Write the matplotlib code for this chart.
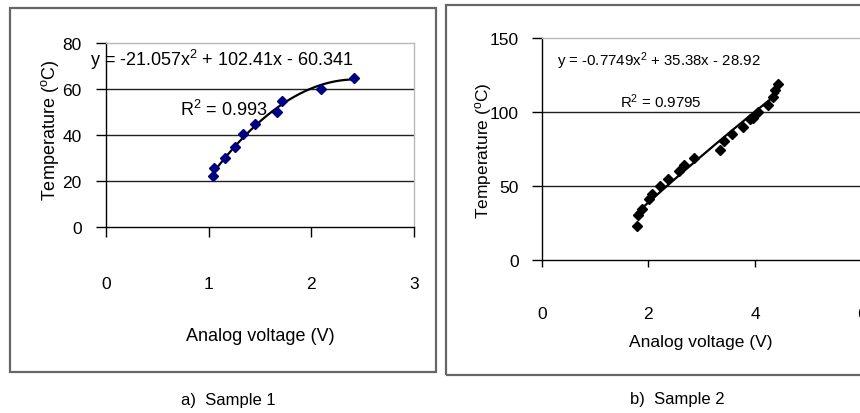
import numpy as np
import matplotlib
matplotlib.use("Agg")
import matplotlib.pyplot as plt
from matplotlib.patches import Rectangle

plt.rcParams['font.family'] = ['Liberation Sans', 'DejaVu Sans']
plt.rcParams['mathtext.fontset'] = 'custom'
plt.rcParams['mathtext.rm'] = 'Liberation Sans'
plt.rcParams['mathtext.it'] = 'Liberation Sans'
plt.rcParams['mathtext.default'] = 'regular'

# ---- data: sample 1 ----
s1_voltage = [1.04, 1.05, 1.155, 1.255, 1.33, 1.45, 1.67, 1.71, 2.09, 2.42]
s1_temp = [22, 25.5, 30, 35, 40.5, 45, 50, 55, 60, 65]
s1_coef = [-21.057, 102.41, -60.341]
s1_r2 = "0.993"
s1_xticks = [0, 1, 2, 3]
s1_yticks = [0, 20, 40, 60, 80]

# ---- data: sample 2 ----
s2_voltage = [1.78, 1.80, 1.88, 2.02, 2.07, 2.22, 2.37, 2.58, 2.66, 2.85,
              3.34, 3.42, 3.57, 3.78, 3.91, 3.97, 4.06, 4.25, 4.33, 4.38, 4.43]
s2_temp = [23, 30, 34, 41, 44.5, 50, 54.5, 60, 64, 69,
           74, 80, 85, 90, 95, 96, 100, 105, 110, 115, 119]
s2_coef = [-0.7749, 35.38, -28.92]
s2_r2 = "0.9795"
s2_xticks = [0, 2, 4, 6]
s2_yticks = [0, 50, 100, 150]

W, H = 860, 414
fig = plt.figure(figsize=(W / 100, H / 100), dpi=100)


def fx(px):
    return px / W


def fy(py):
    return 1 - py / H


# outer frames
fig.add_artist(Rectangle((fx(10), fy(372.5)), fx(426), 363.5 / H,
                         transform=fig.transFigure, fill=False,
                         edgecolor='#666666', lw=1.6))
fig.add_artist(Rectangle((fx(446), fy(375.5)), fx(440), 369.5 / H,
                         transform=fig.transFigure, fill=False,
                         edgecolor='#666666', lw=1.6))


def style_axes(ax, xticks, yticks, xpad, ypad, xlen, ylen):
    ax.set_xticks(xticks)
    ax.set_yticks(yticks)
    ax.set_xlim(xticks[0], xticks[-1])
    ax.set_ylim(yticks[0], yticks[-1])
    for y in yticks[1:-1]:
        ax.axhline(y, color='#222222', lw=1.0, zorder=1)
    ax.spines['left'].set_color('black')
    ax.spines['bottom'].set_color('black')
    ax.spines['top'].set_color('#b8b8b8')
    ax.spines['right'].set_color('#b8b8b8')
    for s in ax.spines.values():
        s.set_linewidth(1.0)
    ax.tick_params(axis='x', direction='out', length=xlen, width=1.0,
                   pad=xpad, labelsize=12.5, colors='black')
    ax.tick_params(axis='y', direction='out', length=ylen, width=1.0,
                   pad=ypad, labelsize=12.5, colors='black')
    ax.tick_params(axis='x', which='both', top=False)
    ax.tick_params(axis='y', which='both', right=False)


# ---- left panel ----
ax1 = fig.add_axes([fx(106), fy(228), fx(308), 184 / H])
style_axes(ax1, s1_xticks, s1_yticks, xpad=28, ypad=10.5, xlen=7, ylen=7)
xs = np.linspace(min(s1_voltage), max(s1_voltage), 200)
ax1.plot(xs, np.polyval(s1_coef, xs), color='black', lw=1.6, zorder=3)
ax1.plot(s1_voltage, s1_temp, linestyle='none', marker='D', markersize=4.6,
         markerfacecolor='#000080', markeredgecolor='#000080', zorder=4,
         clip_on=False)
ax1.set_xlabel('Analog voltage (V)', fontsize=13)
ax1.xaxis.set_label_coords(0.5, -0.592)
ax1.xaxis.label.set_va('center')
ax1.set_ylabel('Temperature ($^{o}$C)', fontsize=13)
ax1.yaxis.set_label_coords(-0.182, 0.533)
ax1.yaxis.label.set_va('center')
ax1.text(-0.052, 0.913,
         'y = %.3fx$^{2}$ + %.2fx - %.3f' % (s1_coef[0], s1_coef[1], -s1_coef[2]),
         transform=ax1.transAxes, fontsize=13, va='center', ha='left',
         zorder=5, clip_on=False)
ax1.text(0.240, 0.641, 'R$^{2}$ = ' + s1_r2, transform=ax1.transAxes,
         fontsize=13, va='center', ha='left', zorder=5)

# ---- right panel ----
ax2 = fig.add_axes([fx(541.7), fy(260.7), fx(320), 221.7 / H])
style_axes(ax2, s2_xticks, s2_yticks, xpad=28, ypad=9.5, xlen=5, ylen=7)
xs2 = np.linspace(min(s2_voltage), max(s2_voltage), 200)
ax2.plot(xs2, np.polyval(s2_coef, xs2), color='black', lw=1.6, zorder=3)
ax2.plot(s2_voltage, s2_temp, linestyle='none', marker='D', markersize=5.6,
         markerfacecolor='black', markeredgecolor='black', zorder=4)
ax2.set_xlabel('Analog voltage (V)', fontsize=12.5)
ax2.xaxis.set_label_coords(0.496, -0.367)
ax2.xaxis.label.set_va('center')
ax2.set_ylabel('Temperature ($^{o}$C)', fontsize=12.5)
ax2.yaxis.set_label_coords(-0.183, 0.495)
ax2.yaxis.label.set_va('center')
ax2.text(0.047, 0.898,
         'y = %.4fx$^{2}$ + %.2fx - %.2f' % (s2_coef[0], s2_coef[1], -s2_coef[2]),
         transform=ax2.transAxes, fontsize=10.8, va='center', ha='left', zorder=5)
ax2.text(0.245, 0.717, 'R$^{2}$ = ' + s2_r2, transform=ax2.transAxes,
         fontsize=10.8, va='center', ha='left', zorder=5)

# captions
fig.text(fx(228), fy(401), 'a)  Sample 1', fontsize=12, ha='center', va='center')
fig.text(fx(677), fy(400), 'b)  Sample 2', fontsize=12, ha='center', va='center')

fig.savefig('out.png', dpi=100)
